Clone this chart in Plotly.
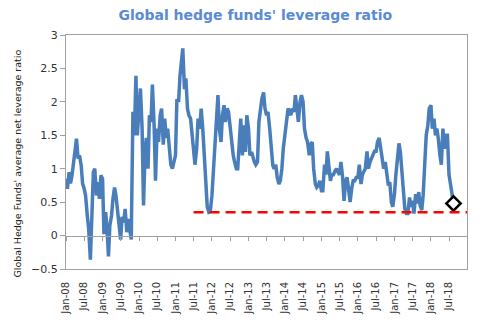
import pandas as pd
import plotly.graph_objects as go

# Semi-monthly observations starting Jan 2008
start_date = "2008-01-01"
leverage = [
    # 2008
    0.85, 0.7, 0.95, 0.78, 0.9, 1.1, 1.3, 1.45, 1.15, 1.2, 1.05, 0.78,
    0.7, 0.6, 0.3, 0.1, -0.36, 0.2, 0.95, 1.0, 0.6, 0.8, 0.55, 0.9,
    # 2009
    0.85, 0.02, 0.35, 0.1, -0.31, 0.15, 0.3, 0.55, 0.72, 0.6, 0.33, 0.2,
    -0.06, 0.28, 0.2, 0.4, 0.05, 0.25, 0.1, -0.06, 1.85, 1.5, 2.39, 1.5,
    # 2010
    1.9, 2.2, 1.6, 0.45, 1.2, 1.46, 1.0, 1.8, 1.7, 2.26, 1.65, 0.82,
    1.6, 1.4, 1.8, 1.9, 1.36, 1.75, 1.46, 1.6, 1.3, 1.06, 1.0, 1.1,
    # 2011
    1.2, 2.04, 2.0, 2.39, 2.6, 2.8, 2.19, 2.35, 1.9, 1.8, 1.75, 1.5,
    1.36, 1.06, 1.3, 1.75, 1.6, 1.9, 1.6, 1.2, 0.7, 0.43, 0.35, 0.36,
    # 2012
    0.6, 0.95, 1.2, 1.7, 2.1, 1.6, 1.4, 1.8, 1.95, 1.7, 1.9, 1.85,
    1.6, 1.4, 1.2, 1.1, 1.0, 1.0, 1.46, 1.75, 1.2, 1.65, 1.25, 1.8,
    # 2013
    1.6, 1.2, 1.25, 1.16, 1.1, 1.06, 1.1, 1.7, 1.9, 2.05, 2.14, 1.9,
    1.8, 1.85, 1.6, 1.3, 1.05, 1.0, 1.06, 0.87, 0.77, 0.82, 1.0, 1.3,
    # 2014
    1.5, 1.7, 1.9, 1.85, 1.8, 1.9, 1.85, 2.1, 1.8, 1.7, 2.0, 2.1,
    2.0, 1.6, 1.46, 1.4, 1.2, 1.36, 1.4, 1.0, 0.77, 0.72, 0.75, 0.82,
    # 2015
    0.67, 0.67, 1.06, 0.91, 1.26, 1.06, 0.82, 0.91, 0.91, 0.96, 1.0, 0.95,
    0.91, 1.1, 0.87, 0.52, 0.82, 0.87, 0.67, 0.5, 0.72, 0.82, 0.82, 0.87,
    # 2016
    0.87, 1.06, 0.77, 0.91, 0.96, 1.0, 1.26, 1.0, 1.1, 1.16, 1.2, 1.26,
    1.26, 1.4, 1.46, 1.3, 1.2, 1.0, 1.1, 0.9, 0.75, 0.8, 0.5, 0.43,
    # 2017
    0.62, 0.91, 1.2, 1.38, 1.25, 0.95, 0.6, 0.4, 0.33, 0.33, 0.57, 0.43,
    0.52, 0.33, 0.62, 0.48, 0.65, 0.45, 0.38, 0.6, 1.1, 1.5, 1.65, 1.9,
    # 2018
    1.95, 1.6, 1.75, 1.5, 1.6, 1.46, 1.2, 1.06, 1.6, 1.3, 1.5, 1.5,
    0.91, 0.77, 0.62, 0.48,
]
dates = pd.date_range(start_date, periods=len(leverage), freq="SMS")

floor_dates = ["2011-07-01", "2018-12-28"]
floor_level = [0.35, 0.35]

x_range = ["2008-01-01", "2018-12-28"]
y_range = [-0.5, 3]

title_text = "Global hedge funds' leverage ratio"
y_title = "Global Hedge Funds' average net leverage ratio"

fig = go.Figure()
fig.add_trace(go.Scatter(
    x=dates, y=leverage, mode="lines",
    line=dict(color="#4a7ebb", width=3.5), showlegend=False, hoverinfo="skip"))
fig.add_trace(go.Scatter(
    x=floor_dates, y=floor_level, mode="lines", xaxis="x2",
    line=dict(color="#ff0000", width=2.5, dash="10px,6px"),
    showlegend=False, hoverinfo="skip"))
fig.add_trace(go.Scatter(
    x=[dates[-1]], y=[leverage[-1]], mode="markers",
    marker=dict(symbol="diamond", size=11, color="white",
                line=dict(color="black", width=2.5)),
    showlegend=False, hoverinfo="skip"))

tick_font = dict(family="DejaVu Sans", size=11, color="#333333")
zero_pos = (0 - y_range[0]) / (y_range[1] - y_range[0])

fig.update_layout(
    width=491, height=327,
    margin=dict(l=66, r=24, t=35, b=54),
    paper_bgcolor="white", plot_bgcolor="white",
    title=dict(text=title_text, x=0.52, xanchor="center", y=0.955, yanchor="middle",
               font=dict(family="DejaVu Sans", size=14, color="#5a8ad6", weight="bold")),
    xaxis=dict(type="date", range=x_range, showgrid=False, zeroline=False,
               showline=True, mirror=True, linecolor="#a0a0a0", linewidth=1,
               ticks="", tick0="2008-01-01", dtick="M6", tickformat="%b-%y",
               tickangle=-90, ticklabelstandoff=8,
               tickfont=dict(family="DejaVu Sans", size=10, color="#333333")),
    xaxis2=dict(type="date", range=x_range, overlaying="x", anchor="free",
                position=zero_pos, showgrid=False, zeroline=False,
                showline=True, linecolor="#a0a0a0", linewidth=1,
                ticks="outside", ticklen=4, tickcolor="#a0a0a0",
                tick0="2008-01-01", dtick="M6", showticklabels=False),
    yaxis=dict(range=y_range, dtick=0.5, showgrid=False, zeroline=False,
               showline=True, mirror=True, linecolor="#a0a0a0", linewidth=1,
               ticks="outside", ticklen=5, tickcolor="#a0a0a0",
               tickfont=tick_font),
    annotations=[dict(text=y_title, textangle=-90, xref="paper", yref="paper",
                      x=-0.12, y=0.45, xanchor="center", yanchor="middle",
                      showarrow=False,
                      font=dict(family="DejaVu Sans", size=9.5, color="#222222"))],
)

fig.write_html("out.html")
